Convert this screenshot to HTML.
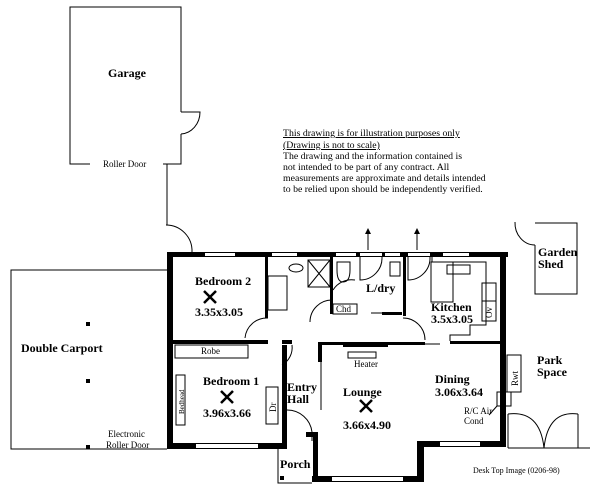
<!DOCTYPE html>
<html><head><style>
html,body{margin:0;padding:0;background:#fff;width:600px;height:495px;overflow:hidden}
svg{display:block}
text{font-family:"Liberation Serif",serif;fill:#000}
.b{font-weight:bold;font-size:12px}
.s{font-size:9px}
</style></head><body>
<svg width="600" height="495" viewBox="0 0 600 495">
<g fill="none" stroke="#000" stroke-width="1">
<!-- Garage -->
<path d="M90,164 H70 V7 H181 V112"/>
<path d="M163,164 H181 V134"/>
<path d="M181,112 H200 A20,22 0 0 1 181,134" />
<path d="M167,164 V225"/>
<path d="M166,225 A26,26 0 0 1 192,252"/>
<!-- carport -->
<path d="M167,270 H11 V449 H167"/>
<!-- garden shed -->
<path d="M535,223 H577 V294 H535 V245"/>
<path d="M515,222 A20,22 0 0 0 535,245"/>
<!-- gate -->
<path d="M508,414 V448 M578,414 V448 M508,448 H590"/>
<path d="M508,414 Q540,410 544,448 M578,414 Q548,410 544,448"/>
<!-- porch -->
<path d="M278,449 V483 H312"/>
</g>
<g fill="#000">
<rect x="86" y="322" width="4" height="4"/><rect x="86" y="379" width="4" height="4"/><rect x="86" y="445" width="4" height="4"/>
<rect x="280" y="476" width="4" height="4"/>
<rect x="167" y="252" width="341" height="5"/>
<rect x="167" y="252" width="6" height="197"/>
<rect x="500" y="252" width="6" height="195"/>
<rect x="167" y="443" width="120" height="6"/>
<rect x="282" y="345" width="5" height="104"/>
<rect x="173" y="340" width="95" height="4"/>
<rect x="282" y="340" width="10" height="4"/>
<rect x="313" y="432" width="5" height="50"/>
<rect x="306" y="432" width="10" height="5"/>
<rect x="312" y="476" width="112" height="6"/>
<rect x="417" y="441" width="7" height="41"/>
<rect x="417" y="441" width="89" height="6"/>
<rect x="318" y="342" width="4" height="20"/>
<rect x="318" y="342" width="107" height="3"/>
<rect x="450" y="341" width="56" height="3"/>
<rect x="265" y="256" width="3" height="62"/>
<rect x="330" y="256" width="3" height="58"/>
<rect x="403" y="256" width="3" height="60"/>
<rect x="382" y="312" width="20" height="3"/>
<rect x="343" y="344" width="45" height="3"/>
</g>
<g fill="#fff">
<rect x="196" y="444" width="62" height="4"/>
<rect x="332" y="477" width="71" height="4"/>
<rect x="440" y="442" width="40" height="4"/>
<rect x="205" y="253" width="30" height="3"/>
<rect x="272" y="253" width="25" height="3"/>
<rect x="336" y="253" width="20" height="3"/>
<rect x="360" y="253" width="22" height="3"/>
<rect x="385" y="253" width="15" height="3"/>
<rect x="408" y="253" width="22" height="3"/>
<rect x="443" y="253" width="26" height="3"/>
</g>
<g fill="none" stroke="#000" stroke-width="1">
<rect x="175" y="345" width="73" height="13"/>
<rect x="176" y="375" width="9" height="50"/>
<rect x="266" y="387" width="12" height="37"/>
<rect x="268" y="276" width="19" height="34"/>
<ellipse cx="296" cy="268" rx="7" ry="4"/>
<rect x="308" y="260" width="22" height="27"/>
<path d="M308,260 L330,287 M330,260 L308,287"/>
<path d="M337,262 H350 V270 Q350,282 343,282 Q337,282 337,270Z"/>
<rect x="333" y="304" width="24" height="10"/>
<rect x="390" y="262" width="10" height="14"/>
<rect x="431" y="262" width="22" height="40"/>
<rect x="447" y="265" width="23" height="9"/>
<path d="M432,257 V262 H486 V325 H470 V335 H450 V341"/>
<rect x="482" y="283" width="14" height="18"/>
<rect x="482" y="301" width="14" height="20"/>
<rect x="507" y="355" width="14" height="37"/>
<rect x="497" y="392" width="14" height="14"/>
<path d="M497,406 L489,415"/>
<rect x="348" y="352" width="28" height="6"/>
<path d="M321,360 V410"/>
<path d="M287,410 A25,25 0 0 1 312,432 V441"/>
<path d="M292,345 A20,20 0 0 1 282,365"/>
<path d="M245,338 A22,22 0 0 1 268,318"/>
<path d="M310,322 A22,22 0 0 1 333,300"/>
<path d="M333,290 A22,22 0 0 1 355,280"/>
<path d="M360,257 V280 A22,22 0 0 0 382,257"/>
<path d="M408,257 V280 A22,22 0 0 0 430,257"/>
<path d="M403,318 A22,22 0 0 1 425,340"/>
<path d="M371,313 H385 M417,344 H440"/>
<path d="M368,250 V233 M417,250 V233"/>
</g>
<g fill="#000">
<path d="M365,234 L368,228 L371,234Z M414,234 L417,228 L420,234Z"/>
</g>
<g stroke="#000" stroke-width="2.5" fill="none">
<path d="M204,291 L216,303 M216,291 L204,303"/>
<path d="M221,391 L233,403 M233,391 L221,403"/>
<path d="M360,400 L372,412 M372,400 L360,412"/>
</g>
<text class="b" x="108" y="77">Garage</text>
<text class="s" x="103" y="167">Roller Door</text>
<text class="b" x="21" y="352">Double Carport</text>
<text class="s" x="108" y="437">Electronic</text>
<text class="s" x="106" y="448">Roller Door</text>
<text class="b" x="195" y="285">Bedroom 2</text>
<text class="b" x="195" y="316">3.35x3.05</text>
<text class="s" x="201" y="354">Robe</text>
<text class="b" x="203" y="385">Bedroom 1</text>
<text class="b" x="203" y="417">3.96x3.66</text>
<text class="s" transform="translate(184,414) rotate(-90)" style="font-size:7px">Bedhead</text>
<text class="s" transform="translate(276,412) rotate(-90)">Dr</text>
<text class="b" x="287" y="391">Entry</text>
<text class="b" x="287" y="403">Hall</text>
<text class="b" x="280" y="468">Porch</text>
<text class="b" x="343" y="396">Lounge</text>
<text class="b" x="343" y="429">3.66x4.90</text>
<text class="s" x="354" y="367">Heater</text>
<text class="b" x="366" y="292">L/dry</text>
<text class="s" x="336" y="312">Chd</text>
<text class="b" x="431" y="311">Kitchen</text>
<text class="b" x="431" y="323">3.5x3.05</text>
<text class="s" transform="translate(492,318) rotate(-90)">Ov</text>
<text class="b" x="435" y="383">Dining</text>
<text class="b" x="435" y="396">3.06x3.64</text>
<text class="s" transform="translate(518,386) rotate(-90)">Rwt</text>
<text class="s" x="464" y="414">R/C Air</text>
<text class="s" x="464" y="424">Cond</text>
<text class="b" x="538" y="256">Garden</text>
<text class="b" x="538" y="268">Shed</text>
<text class="b" x="537" y="364">Park</text>
<text class="b" x="537" y="376">Space</text>
<text class="s" x="473" y="473" style="font-size:8px">Desk Top Image (0206-98)</text>
<g style="font-size:9.8px">
<text x="283" y="136" text-decoration="underline">This drawing is for illustration purposes only</text>
<text x="283" y="148" text-decoration="underline">(Drawing is not to scale)</text>
<text x="283" y="159">The drawing and the information contained is</text>
<text x="283" y="170">not intended to be part of any contract.  All</text>
<text x="283" y="181">measurements are approximate and details intended</text>
<text x="283" y="192">to be relied upon should be independently verified.</text>
</g>
</svg>
</body></html>
